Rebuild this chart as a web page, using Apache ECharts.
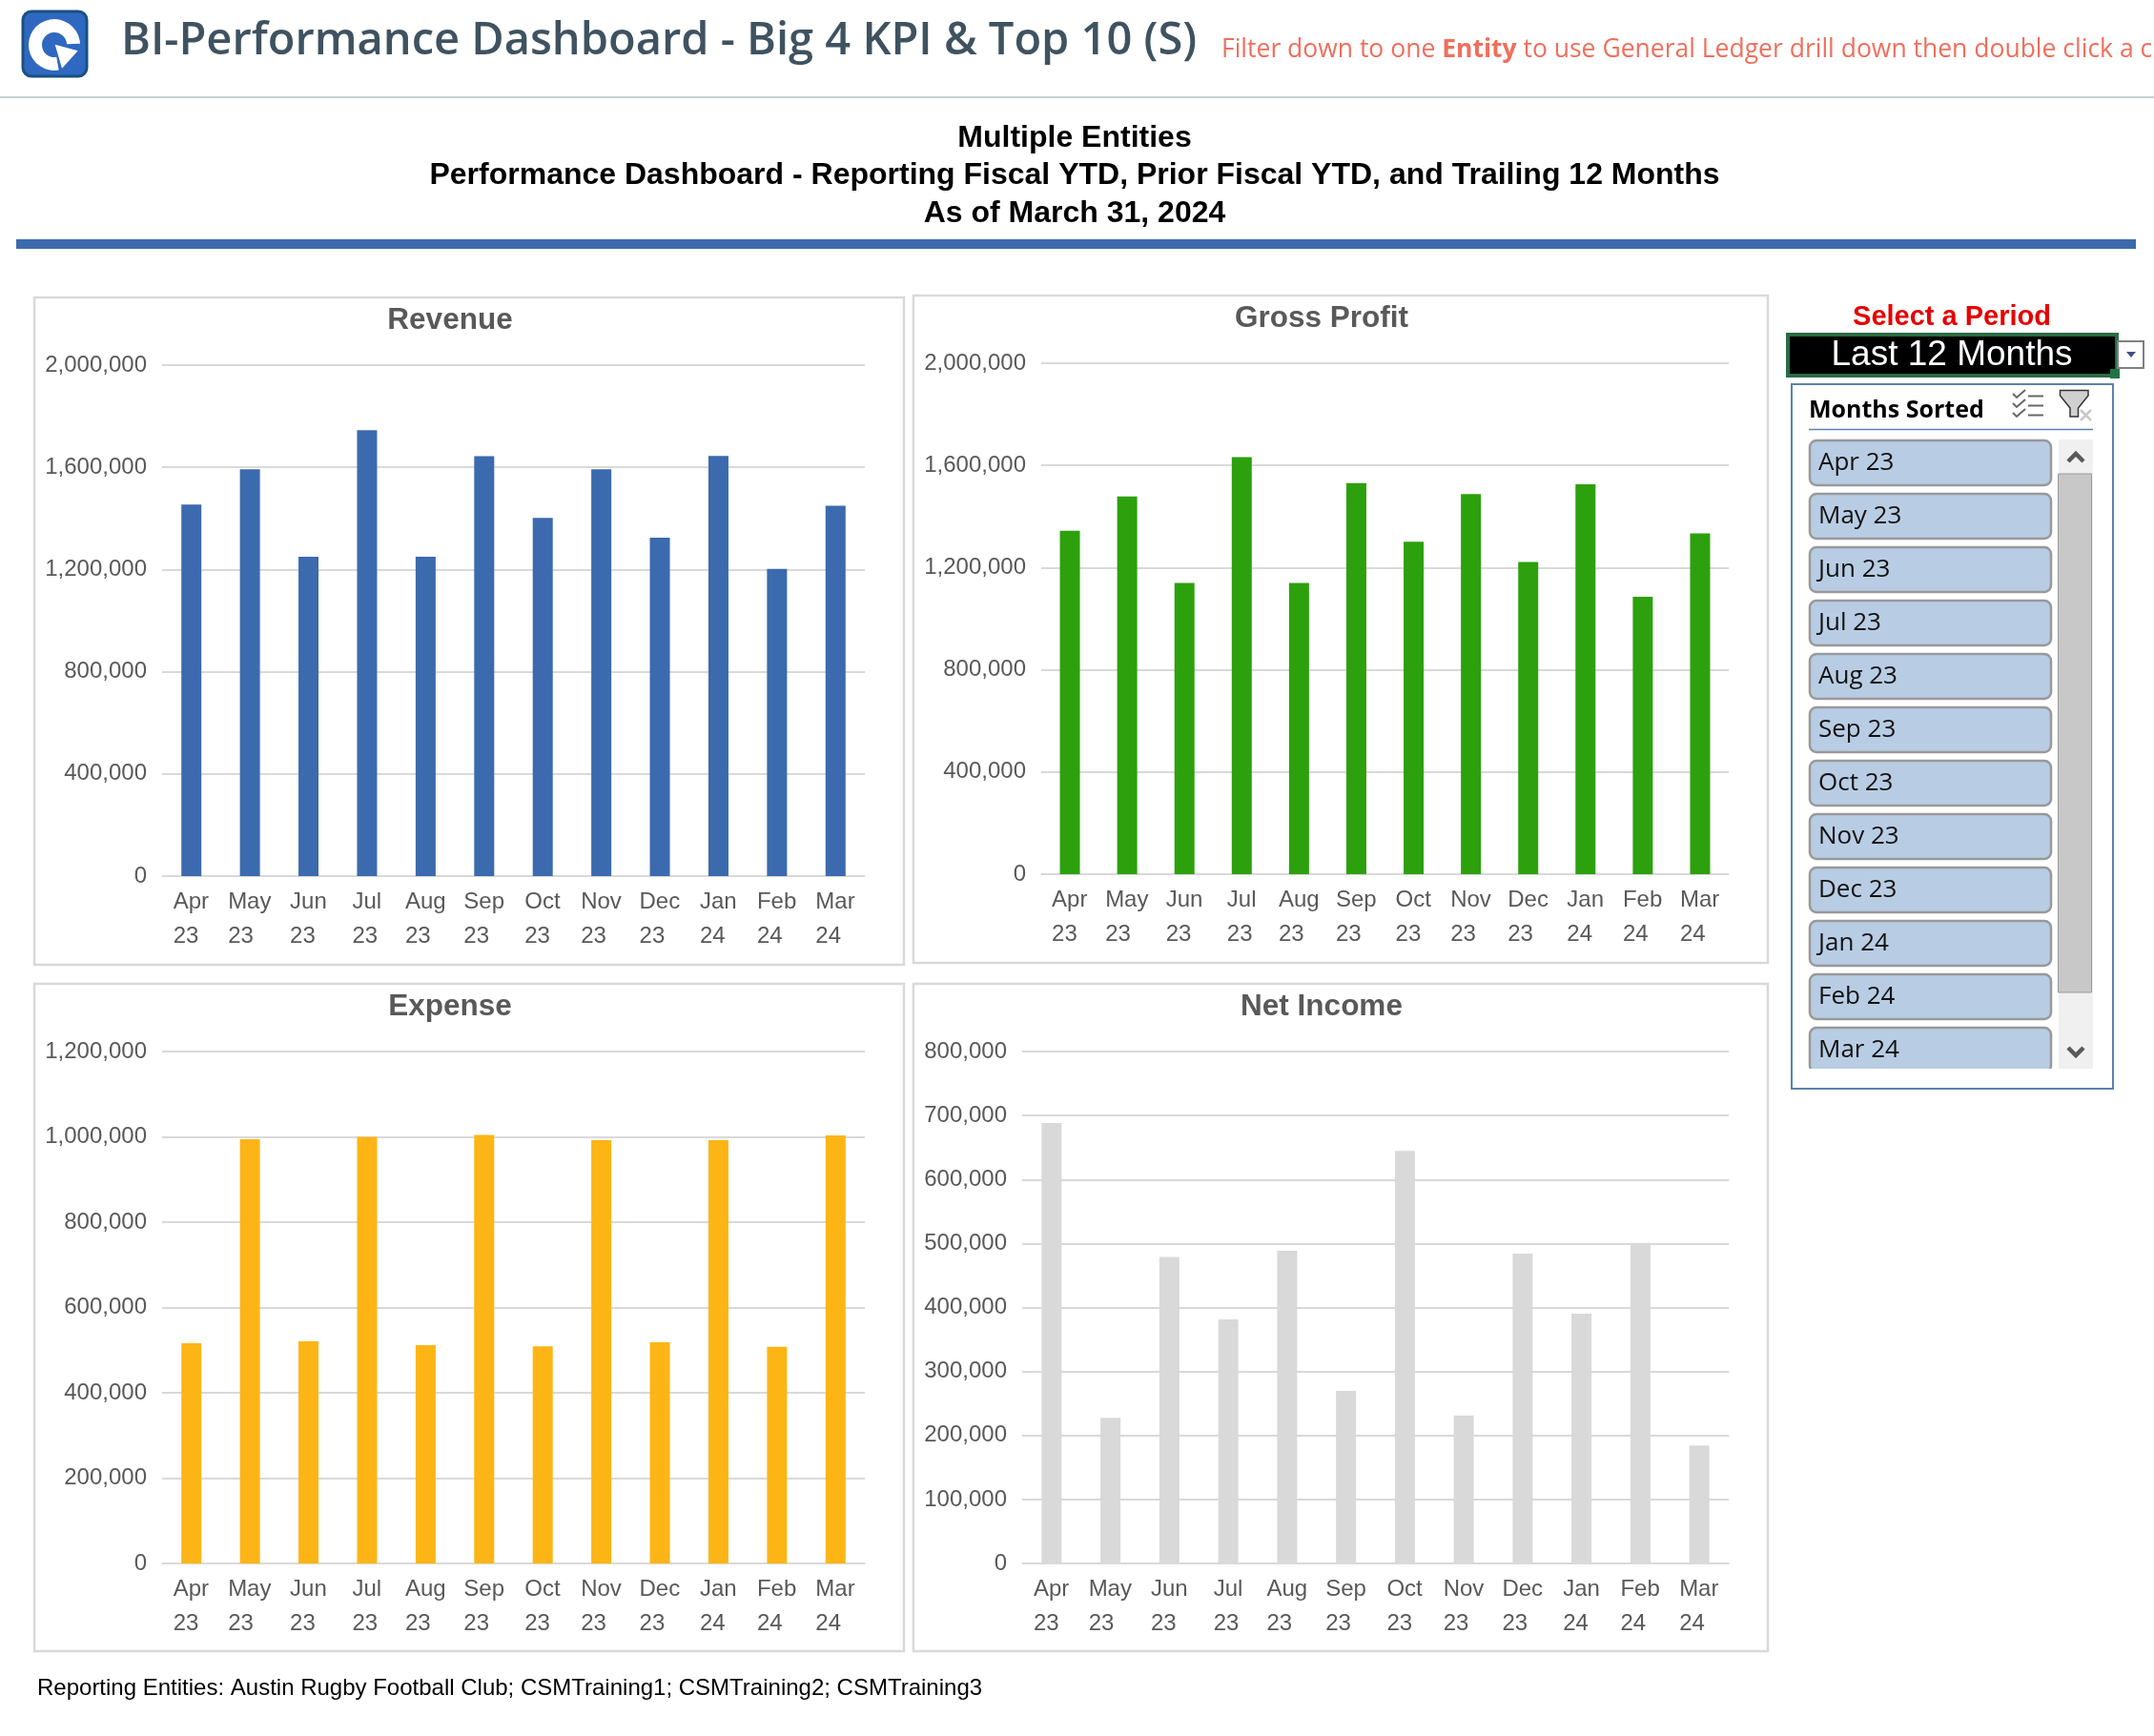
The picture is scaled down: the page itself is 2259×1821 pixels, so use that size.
<!DOCTYPE html>
<html>
<head>
<meta charset="utf-8">
<title>BI-Performance Dashboard</title>
<script src="https://cdn.jsdelivr.net/npm/echarts@6/dist/echarts.min.js"></script>
<style>
html, body { margin: 0; padding: 0; background: #fff; overflow: hidden; }
#main { width: 2259px; height: 1821px; }
</style>
</head>
<body>
<div id="main"></div>
<script>
const months = ['Apr 23', 'May 23', 'Jun 23', 'Jul 23', 'Aug 23', 'Sep 23', 'Oct 23', 'Nov 23', 'Dec 23', 'Jan 24', 'Feb 24', 'Mar 24'];
const revenue = [1454000, 1592000, 1250000, 1745000, 1250000, 1644000, 1402000, 1592000, 1325000, 1645000, 1202000, 1450000];
const grossProfit = [1344000, 1479000, 1140000, 1632000, 1140000, 1531000, 1301000, 1488000, 1222000, 1526000, 1086000, 1334000];
const expense = [516000, 994500, 520600, 1000200, 511500, 1004700, 509200, 992200, 518400, 992200, 508100, 1003600];
const netIncome = [688100, 227600, 478800, 381400, 488700, 269500, 644700, 231400, 484100, 390500, 500900, 184200];

const headerTitle = 'BI-Performance Dashboard - Big 4 KPI & Top 10 (S)';
const reportLines = ['Multiple Entities', 'Performance Dashboard - Reporting Fiscal YTD, Prior Fiscal YTD, and Trailing 12 Months', 'As of March 31, 2024'];
const footnote = 'Reporting Entities: Austin Rugby Football Club; CSMTraining1; CSMTraining2; CSMTraining3';

const ARIAL = '"Liberation Sans", Arial, sans-serif';
const SEGOE = '"Open Sans", "Noto Sans", sans-serif';
const GRID_GREY = '#d9d9d9';
const LABEL_GREY = '#595959';

const panels = [
    { name: 'Revenue', data: revenue, color: '#3b6aae', max: 2000000, interval: 400000, box: [36, 312, 912, 700], plot: [170, 383, 737, 536], titleX: 472, titleY: 336 },
    { name: 'Gross Profit', data: grossProfit, color: '#2da00e', max: 2000000, interval: 400000, box: [958, 310, 896, 700], plot: [1092, 381, 721, 536], titleX: 1386, titleY: 334 },
    { name: 'Expense', data: expense, color: '#fdb515', max: 1200000, interval: 200000, box: [36, 1032, 912, 700], plot: [170, 1103, 737, 537], titleX: 472, titleY: 1056 },
    { name: 'Net Income', data: netIncome, color: '#d9d9d9', max: 800000, interval: 100000, box: [958, 1032, 896, 700], plot: [1072, 1103, 741, 537], titleX: 1386, titleY: 1056 }
];

// the excel labels wrap left-aligned, so both lines share the width of the month name
const measure = document.createElement('canvas').getContext('2d');
measure.font = '24px ' + ARIAL;
const labelRich = {};
months.forEach((m) => {
    const mon = m.split(' ')[0];
    labelRich[mon] = { width: Math.ceil(measure.measureText(mon).width), align: 'left', lineHeight: 36, fontSize: 24, fontFamily: ARIAL, color: LABEL_GREY };
});

function rect(x, y, width, height, style, r) {
    return { type: 'rect', shape: { x, y, width, height, r: r || 0 }, style };
}

function line(x1, y1, x2, y2, stroke, lineWidth) {
    return { type: 'line', shape: { x1, y1, x2, y2 }, style: { stroke, lineWidth } };
}

function text(x, y, str, font, fill, align) {
    return { type: 'text', x, y, style: { text: str, font, fill, align: align || 'left', verticalAlign: 'middle' } };
}

function poly(points, style) {
    return { type: 'polygon', shape: { points }, style };
}

function headerGraphics() {
    const g = [
        rect(24, 12, 67, 68, { fill: '#2f68c0', stroke: '#1a5080', lineWidth: 3 }, 9),
        { type: 'sector', shape: { cx: 57, cy: 47, r: 27, r0: 13, startAngle: 80 * Math.PI / 180, endAngle: 2 * Math.PI - 0.05, clockwise: true }, style: { fill: '#fff' } },
        poly([[57.7, 46.7], [81.7, 53.3], [65, 71.7]], { fill: '#fff' }),
        text(127, 44, headerTitle, '600 47px ' + SEGOE, '#3f5260'),
        {
            type: 'text', x: 1281, y: 52,
            style: {
                text: 'Filter down to one {b|Entity} to use General Ledger drill down then double click a c',
                font: '26.5px ' + SEGOE, fill: '#ef6f5c', verticalAlign: 'middle',
                rich: { b: { font: '700 26.5px ' + SEGOE, fill: '#ef6f5c' } }
            }
        },
        rect(0, 101, 2259, 2, { fill: '#c6d0d3' }),
        text(1127, 145, reportLines[0], '700 32px ' + ARIAL, '#000', 'center'),
        text(1127, 184, reportLines[1], '700 32px ' + ARIAL, '#000', 'center'),
        text(1127, 224, reportLines[2], '700 32px ' + ARIAL, '#000', 'center'),
        rect(17, 251, 2223, 10, { fill: '#3b6aae' }),
        text(39, 1771, footnote, '24px ' + ARIAL, '#000')
    ];
    return g;
}

function slicerGraphics() {
    const g = [
        text(2047, 333, 'Select a Period', '700 29px ' + ARIAL, '#e60000', 'center'),
        rect(1875, 351, 345, 43, { fill: '#000', stroke: '#2a6b45', lineWidth: 4 }),
        text(2047, 373, 'Last 12 Months', '37px ' + ARIAL, '#fff', 'center'),
        rect(2213, 387, 10, 10, { fill: '#217346' }),
        rect(2221, 358, 27, 28, { fill: '#fff', stroke: '#808080', lineWidth: 2 }),
        poly([[2230, 369], [2240, 369], [2235, 375]], { fill: '#404e86' }),
        rect(1879, 403, 337, 739, { fill: '#fff', stroke: '#5b82ad', lineWidth: 2 }),
        text(1897, 431, 'Months Sorted', '700 25px ' + SEGOE, '#000'),
        line(1897, 450.5, 2195, 450.5, '#5b82ad', 1.5)
    ];
    [0, 1, 2].forEach((i) => {
        const dy = i * 10;
        g.push({ type: 'polyline', shape: { points: [[2111, 413 + dy], [2115, 417 + dy], [2124, 409 + dy]] }, style: { stroke: '#666', lineWidth: 2, fill: 'none' } });
        g.push(line(2127, 415.5 + dy, 2143, 415.5 + dy, '#666', 2));
    });
    g.push(poly([[2160.5, 409.5], [2190, 409.5], [2190, 415], [2179.5, 428], [2179.5, 437], [2171, 437], [2171, 428], [2160.5, 415]], { fill: '#d0d0d0', stroke: '#333', lineWidth: 1.5 }));
    g.push(line(2182, 430, 2193, 441, '#c8c8c8', 2.5));
    g.push(line(2193, 430, 2182, 441, '#c8c8c8', 2.5));

    months.forEach((m, i) => {
        const y = 461 + i * 56;
        g.push(rect(1898, y + 1, 253, 47, { fill: '#b8cde4', stroke: '#999', lineWidth: 2.5 }, 7));
        g.push(text(1907, y + 25, m, '26px ' + SEGOE, '#111'));
    });
    // last button is cut off by the bottom of the list
    g.push(rect(1890, 1121, 270, 18, { fill: '#fff' }));

    g.push(rect(2159, 461, 36, 660, { fill: '#f0f0f0' }));
    g.push(rect(2158.5, 497, 35, 544, { fill: '#c8c8c8', stroke: '#999', lineWidth: 1 }));
    g.push({ type: 'polyline', shape: { points: [[2169, 484], [2177, 476], [2185, 484]] }, style: { stroke: '#595959', lineWidth: 4.5, fill: 'none' } });
    g.push({ type: 'polyline', shape: { points: [[2169, 1099], [2177, 1107], [2185, 1099]] }, style: { stroke: '#595959', lineWidth: 4.5, fill: 'none' } });
    return g;
}

const chart = echarts.init(document.getElementById('main'));

chart.setOption({
    animation: false,
    backgroundColor: '#fff',
    title: panels.map((p) => ({
        text: p.name,
        left: p.titleX,
        top: p.titleY,
        padding: 0,
        textAlign: 'center',
        textVerticalAlign: 'middle',
        textStyle: { fontFamily: ARIAL, fontSize: 31.5, fontWeight: 700, color: LABEL_GREY }
    })),
    grid: panels.map((p) => ({ left: p.plot[0], top: p.plot[1], width: p.plot[2], height: p.plot[3] })),
    xAxis: panels.map((p, i) => ({
        type: 'category',
        gridIndex: i,
        data: months,
        axisTick: { show: false },
        axisLine: { lineStyle: { color: GRID_GREY, width: 1.5 } },
        axisLabel: {
            interval: 0,
            margin: 9,
            formatter: (v) => {
                const parts = v.split(' ');
                return `{${parts[0]}|${parts[0]}}\n{${parts[0]}|${parts[1]}}`;
            },
            rich: labelRich
        }
    })),
    yAxis: panels.map((p, i) => ({
        type: 'value',
        gridIndex: i,
        min: 0,
        max: p.max,
        interval: p.interval,
        axisLine: { show: false },
        axisTick: { show: false },
        splitLine: { lineStyle: { color: GRID_GREY, width: 2 } },
        axisLabel: {
            margin: 16,
            fontFamily: ARIAL,
            fontSize: 24,
            color: LABEL_GREY,
            padding: [0, 0, 4, 0],
            formatter: (v) => v.toLocaleString('en-US')
        }
    })),
    series: panels.map((p, i) => ({
        name: p.name,
        type: 'bar',
        xAxisIndex: i,
        yAxisIndex: i,
        barWidth: 21,
        data: p.data,
        itemStyle: { color: p.color }
    })),
    graphic: panels.map((p) => rect(p.box[0], p.box[1], p.box[2], p.box[3], { fill: 'none', stroke: GRID_GREY, lineWidth: 2.5 }))
        .concat(headerGraphics(), slicerGraphics())
});

window.addEventListener('resize', () => chart.resize());
</script>
</body>
</html>
